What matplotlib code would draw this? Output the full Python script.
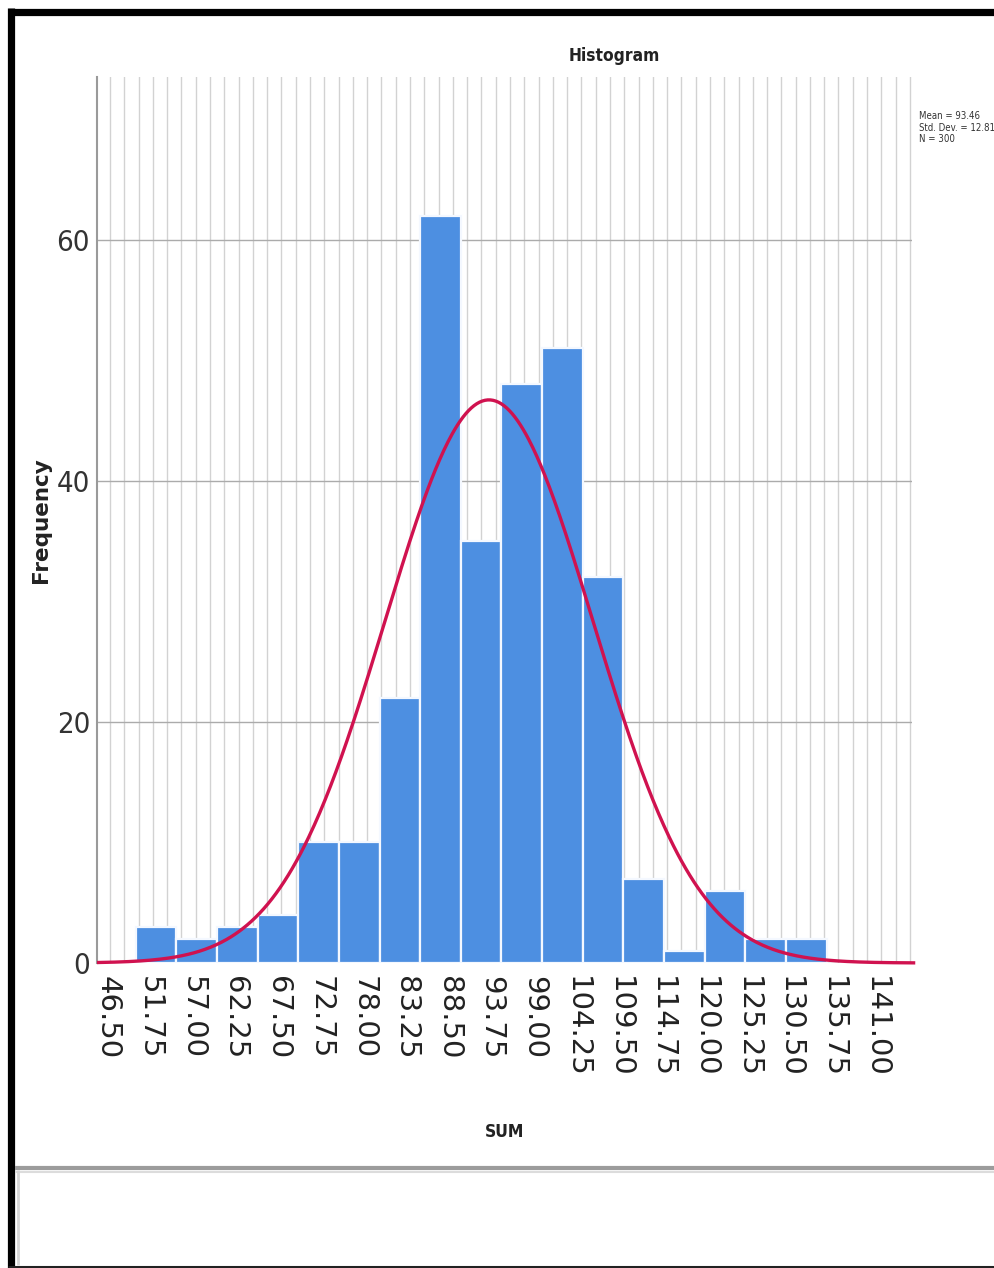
import numpy as np
import matplotlib
matplotlib.use("Agg")
import matplotlib.pyplot as plt
from matplotlib.lines import Line2D

# ---- data ----
bin_edges = [50, 55, 60, 65, 70, 75, 80, 85, 90, 95, 100, 105, 110, 115, 120, 125, 130, 135]
frequencies = [3, 2, 3, 4, 10, 10, 22, 62, 35, 48, 51, 32, 7, 1, 6, 2, 2]
tick_labels = ["46.50", "51.75", "57.00", "62.25", "67.50", "72.75", "78.00", "83.25",
               "88.50", "93.75", "99.00", "104.25", "109.50", "114.75", "120.00",
               "125.25", "130.50", "135.75", "141.00"]
y_ticks = [0, 20, 40, 60]
mean_val = 93.46
std_val = 12.81
n_val = 300

W, H = 995, 1268
fig = plt.figure(figsize=(W / 100, H / 100), dpi=100)
fig.patch.set_facecolor("white")

WIDE = ["DejaVu Sans"]
COND = dict(family=["DejaVu Sans"], fontstretch="condensed")

ax_l, ax_r, ax_t, ax_b = 97, 912, 77, 963
ax = fig.add_axes([ax_l / W, 1 - ax_b / H, (ax_r - ax_l) / W, (ax_b - ax_t) / H])

xmin, xmax = 45.24, 145.5
ax.set_xlim(xmin, xmax)
ax.set_ylim(0, 73.5)

# histogram bars
lefts = np.array(bin_edges[:-1], dtype=float)
widths = np.diff(np.array(bin_edges, dtype=float))
ax.bar(lefts, frequencies, width=widths, align="edge", color="#4d8fe1",
       edgecolor="#f4f8ff", linewidth=1.6, zorder=3)

# normal curve from stated mean / sd / N
bw = widths[0]
xs = np.linspace(xmin, xmax + 0.4, 600)
ys = n_val * bw / (std_val * np.sqrt(2 * np.pi)) * np.exp(-0.5 * ((xs - mean_val) / std_val) ** 2)
ax.plot(xs, ys, color="#d0124f", lw=2.4, zorder=4, clip_on=False, solid_capstyle="butt")

# grid
ax.set_xticks(np.arange(46.85, 145.6, 1.757), minor=True)
ax.grid(True, which="minor", axis="x", color="#d2d2d2", lw=1.0, zorder=0)
ax.set_yticks(y_ticks)
ax.grid(True, which="major", axis="y", color="#ababab", lw=1.0, zorder=0)
ax.tick_params(axis="x", which="minor", length=0)

tick_pos = [float(t) for t in tick_labels]
ax.set_xticks(tick_pos)
ax.set_xticklabels(tick_labels, rotation=-90, family=WIDE, fontsize=21, color="#222222",
                   va="top", ha="center")
ax.tick_params(axis="x", which="major", length=0, pad=9)
ax.set_yticklabels([str(v) for v in y_ticks], fontsize=21, color="#333333", **COND)
ax.tick_params(axis="y", length=0, pad=5)

for s in ["top", "right", "bottom"]:
    ax.spines[s].set_visible(False)
ax.spines["left"].set_color("#9a9a9a")
ax.spines["left"].set_linewidth(1.5)

ax.set_ylabel("Frequency", family=WIDE, fontsize=15.5, fontweight="bold", color="#222222")
ax.yaxis.set_label_coords(-0.056, 0.5)

# titles and labels
fig.text(614 / W, 1 - 61 / H, "Histogram", fontsize=12.5, fontweight="bold",
         ha="center", va="baseline", color="#222222", **COND)
fig.text(505 / W, 1 - 1137 / H, "SUM", fontsize=12.5, fontweight="bold",
         ha="center", va="baseline", color="#222222", **COND)
fig.text(919 / W, 1 - 111 / H, "Mean = %.2f\nStd. Dev. = %.2f\nN = %d" % (mean_val, std_val, n_val),
         fontsize=6.9, ha="left", va="top", linespacing=1.2, color="#333333", **COND)

# frame lines
def hline(y, x0, x1, lw, color):
    fig.add_artist(Line2D([x0 / W, x1 / W], [1 - y / H, 1 - y / H], lw=lw, color=color,
                          transform=fig.transFigure, solid_capstyle="butt"))

def vline(x, y0, y1, lw, color):
    fig.add_artist(Line2D([x / W, x / W], [1 - y0 / H, 1 - y1 / H], lw=lw, color=color,
                          transform=fig.transFigure, solid_capstyle="butt"))

hline(11.5, 8, W, 5.2, "black")
vline(11.5, 8, H, 5.2, "black")
hline(1266.5, 8, W, 2.2, "#222222")
hline(1168, 15, W, 3.0, "#9c9c9c")
hline(1172, 15, W, 1.5, "#dcdcdc")
vline(18, 1170, 1265, 2.0, "#d6d6d6")

fig.savefig("out.png", dpi=100, facecolor="white")
